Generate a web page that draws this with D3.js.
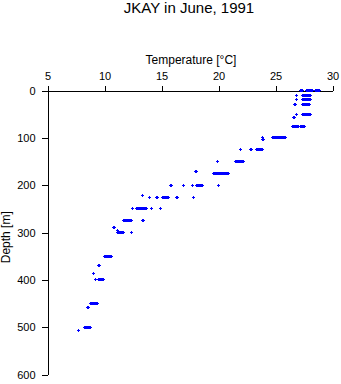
<!DOCTYPE html>
<html>
<head>
<meta charset="utf-8">
<script src="https://cdn.jsdelivr.net/npm/d3@7"></script>
<style>
  html, body { margin: 0; padding: 0; background: #fff; }
  svg { display: block; }
  text { font-family: "Liberation Sans", Arial, sans-serif; fill: #000; }
</style>
</head>
<body>
<svg id="chart" width="341" height="384"></svg>
<script>
// ---- data ----
const title = "JKAY in June, 1991";
const xLabel = "Temperature [°C]";
const yLabel = "Depth [m]";
const xTicks = [5, 10, 15, 20, 25, 30];
const yTicks = [0, 100, 200, 300, 400, 500, 600];

const depths = [0, 10, 20, 30, 50, 56, 75, 100, 104, 125, 150, 172, 175, 200, 222, 225, 250, 275, 289, 295, 300, 350, 370, 386, 400, 451, 458, 500, 506];
const temps = [
  [27.15, 27.2, 27.25, 27.3, 27.35, 27.75, 27.8, 27.85, 27.9, 27.95, 28.0, 28.05, 28.1, 28.15, 28.2, 28.25, 28.55, 28.6, 28.65, 28.7, 28.75, 28.8, 28.85],
  [26.8, 27.4, 27.45, 27.5, 27.55, 27.6, 27.65, 27.7, 27.75, 27.8, 27.85, 27.9, 27.95, 28.0, 28.05, 28.1],
  [26.8, 27.4, 27.45, 27.5, 27.55, 27.6, 27.65, 27.7, 27.75, 27.8, 27.85, 27.9, 27.95, 28.0, 28.05, 28.1],
  [26.7, 26.75, 27.4, 27.45, 27.5, 27.55, 27.6, 27.65, 27.7, 27.75, 27.8, 27.85, 27.9, 27.95, 28.0],
  [26.8, 27.4, 27.45, 27.5, 27.55, 27.6, 27.65, 27.7, 27.75, 27.8, 27.85, 27.9, 27.95, 28.0, 28.05, 28.1],
  [26.6, 26.65],
  [26.5, 26.55, 26.6, 26.65, 26.7, 26.75, 26.8, 26.85, 26.9, 26.95, 27.0, 27.2, 27.25, 27.3, 27.35, 27.4, 27.45, 27.5],
  [23.9, 24.75, 24.8, 24.85, 24.9, 24.95, 25.0, 25.05, 25.1, 25.15, 25.2, 25.25, 25.3, 25.35, 25.4, 25.45, 25.5, 25.55, 25.6, 25.65, 25.7, 25.75, 25.8, 25.85],
  [23.9, 23.95],
  [21.9, 21.95, 22.85, 22.9, 23.35, 23.4, 23.45, 23.5, 23.55, 23.6, 23.65, 23.7, 23.75, 23.8, 23.85, 23.9],
  [19.9, 19.95, 21.45, 21.5, 21.55, 21.6, 21.65, 21.7, 21.75, 21.8, 21.85, 21.9, 21.95, 22.0, 22.05, 22.1, 22.15],
  [18.0, 18.05],
  [19.6, 19.65, 19.7, 19.75, 19.8, 19.85, 19.9, 19.95, 20.0, 20.05, 20.1, 20.15, 20.2, 20.25, 20.3, 20.35, 20.4, 20.45, 20.5, 20.55, 20.6, 20.65, 20.7, 20.75, 20.8, 20.85, 20.9],
  [15.8, 15.85, 16.9, 16.95, 17.75, 18.05, 18.1, 18.15, 18.2, 18.25, 18.3, 18.35, 18.4, 18.45, 18.5, 18.55, 18.6, 20.0],
  [13.3, 13.35],
  [13.95, 14.6, 14.65, 15.1, 15.15, 15.2, 15.25, 15.3, 15.35, 15.4, 15.45, 15.5, 15.55, 15.6, 15.65, 16.35, 16.4, 17.8],
  [12.45, 12.8, 12.85, 12.9, 12.95, 13.0, 13.05, 13.1, 13.15, 13.2, 13.25, 13.3, 13.35, 13.4, 13.45, 13.5, 13.55, 13.6, 13.65, 14.1, 14.15, 14.9, 14.95],
  [11.7, 11.75, 11.8, 11.85, 11.9, 11.95, 12.0, 12.05, 12.1, 12.15, 12.2, 12.25, 12.3, 12.35, 12.4, 13.35, 13.4],
  [10.8, 10.85],
  [11.15],
  [11.1, 11.15, 11.2, 11.25, 11.3, 11.35, 11.4, 11.45, 11.5, 11.55, 11.6, 11.65, 11.7, 12.35, 12.4],
  [10.0, 10.05, 10.1, 10.15, 10.2, 10.25, 10.3, 10.35, 10.4, 10.45, 10.5, 10.55, 10.6],
  [9.5, 9.55],
  [9.05],
  [9.25, 9.45, 9.5, 9.55, 9.6, 9.65, 9.7, 9.75, 9.8, 9.85, 9.9, 9.95],
  [8.8, 8.85, 8.9, 8.95, 9.0, 9.05, 9.1, 9.15, 9.2, 9.25, 9.3, 9.35],
  [8.55, 8.6],
  [8.25, 8.3, 8.35, 8.4, 8.45, 8.5, 8.55, 8.6, 8.65, 8.7, 8.75],
  [7.75]
];

// ---- layout ----
const mLeft = 47.5, mRight = 332.5, mTop = 90.5, mBottom = 374.5;

const svg = d3.select("#chart");

const x = d3.scaleLinear().domain([5, 30]).range([mLeft, mRight]);
const y = d3.scaleLinear().domain([0, 600]).range([mTop, mBottom]);

// title
svg.append("text")
  .attr("x", (mLeft + mRight) / 2 - 1)
  .attr("y", 13)
  .attr("text-anchor", "middle")
  .style("font-size", "15px")
  .text(title);

// x label
svg.append("text")
  .attr("x", (mLeft + mRight) / 2 + 1)
  .attr("y", 64)
  .attr("text-anchor", "middle")
  .style("font-size", "12px")
  .text(xLabel);

// y label
svg.append("text")
  .attr("transform", `translate(9.5,${y(310)}) rotate(-90)`)
  .attr("text-anchor", "middle")
  .style("font-size", "12px")
  .text(yLabel);

// axes
const xAxis = d3.axisTop(x).tickValues(xTicks).tickSizeInner(5).tickSizeOuter(0).tickPadding(6).tickFormat(d3.format("d"));
const gx = svg.append("g").attr("transform", `translate(0,${mTop})`).call(xAxis);
const yAxis = d3.axisLeft(y).tickValues(yTicks).tickSizeInner(6).tickSizeOuter(0).tickPadding(6).tickFormat(d3.format("d"));
const gy = svg.append("g").attr("transform", `translate(${mLeft},0)`).call(yAxis);

[gx, gy].forEach(g => {
  g.selectAll("path.domain").attr("stroke", "#000").attr("stroke-width", 1).attr("shape-rendering", "crispEdges");
  g.selectAll(".tick line").attr("stroke", "#000").attr("shape-rendering", "crispEdges");
  g.selectAll(".tick text").style("font-size", "11px").style("font-family", "'Liberation Sans', Arial, sans-serif").attr("fill", "#000");
});

// points
const pts = [];
depths.forEach((d, i) => temps[i].forEach(t => pts.push({ d, t })));

svg.append("g")
  .attr("fill", "#0000ff")
  .attr("shape-rendering", "crispEdges")
  .selectAll("path")
  .data(pts)
  .join("path")
  .attr("d", p => {
    const cx = Math.floor(x(p.t)), cy = Math.floor(y(p.d));
    return `M${cx - 1},${cy}h3v1h-3z M${cx},${cy - 1}h1v3h-1z`;
  });
</script>
</body>
</html>
